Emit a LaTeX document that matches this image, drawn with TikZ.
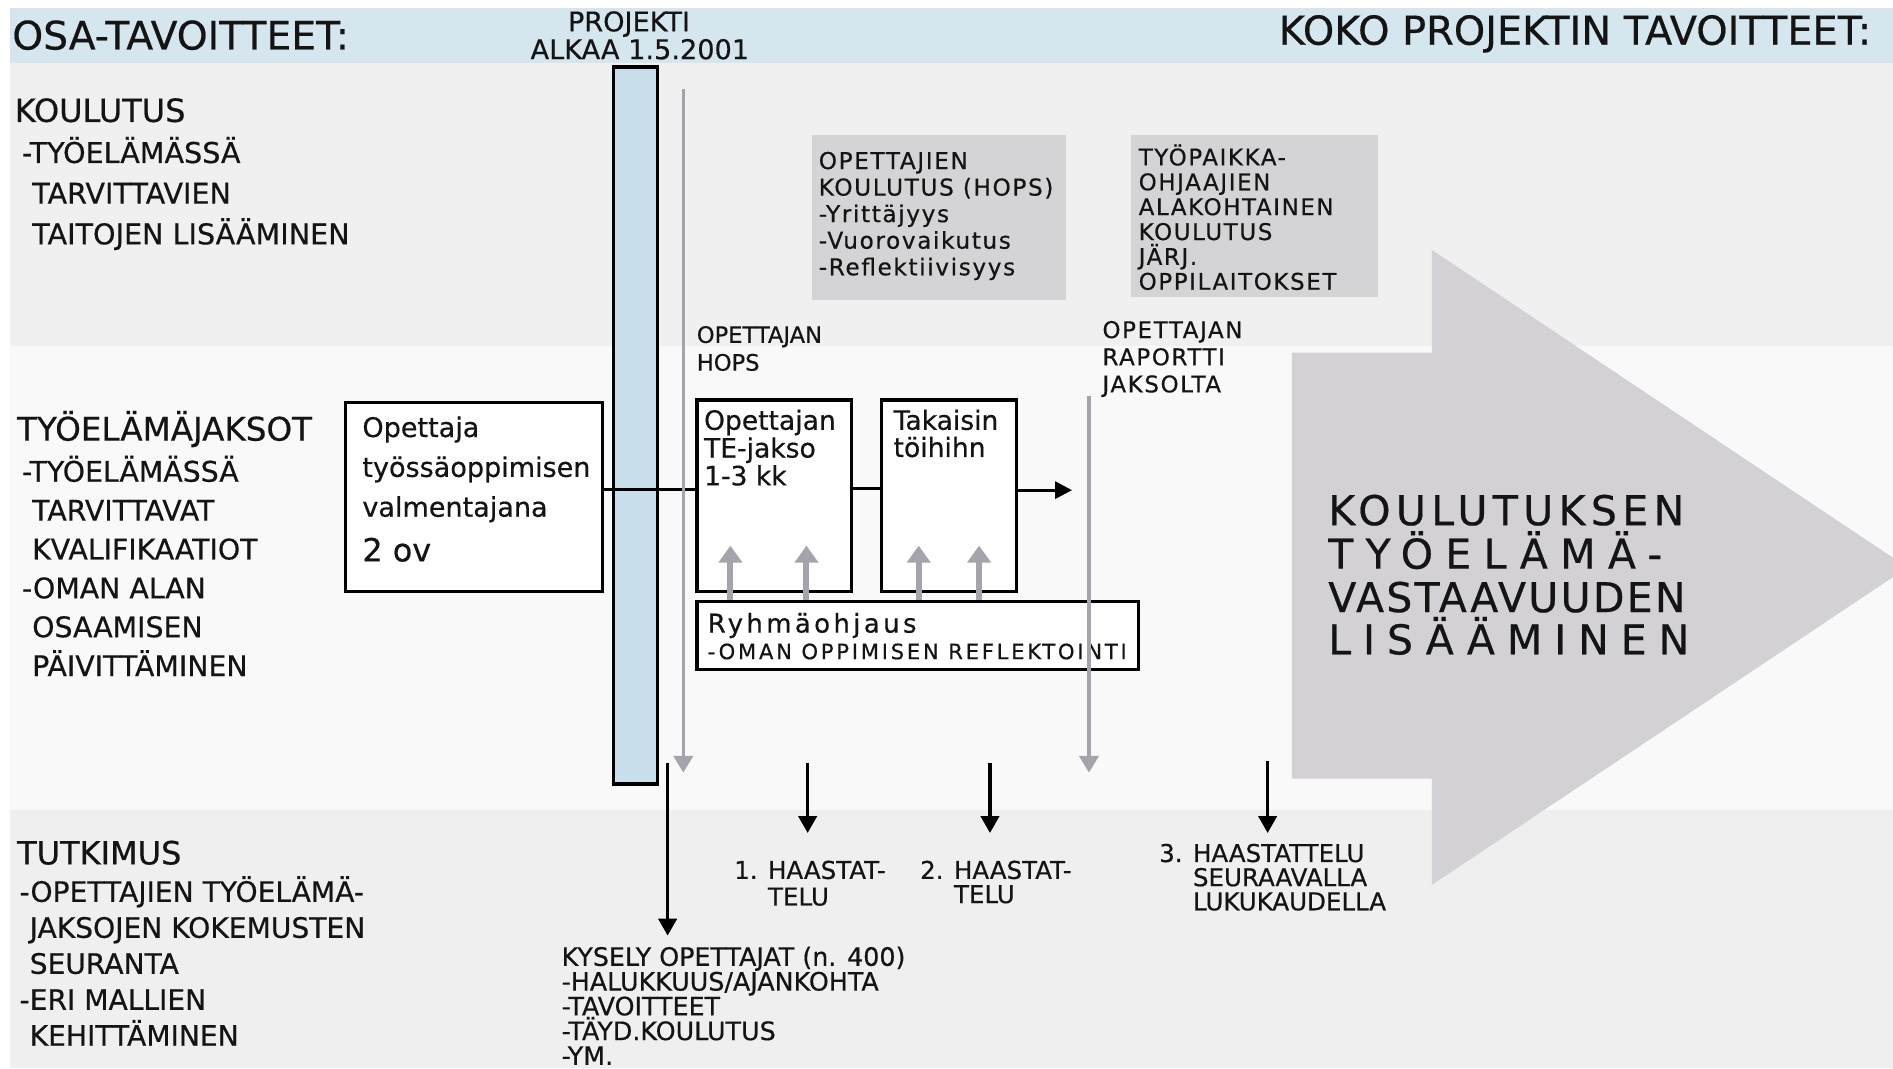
\documentclass[tikz,border=0pt]{standalone}
\usepackage{fontspec}
\setmainfont{DejaVu Sans}[FakeBold=0.5]
\newfontfamily\lsA[LetterSpace=7,FakeBold=0.5]{DejaVu Sans}
\newfontfamily\lsB[LetterSpace=13,FakeBold=0.5]{DejaVu Sans}
\newfontfamily\lsK[LetterSpace=13,FakeBold=0.5]{DejaVu Sans}
\newfontfamily\lsT[LetterSpace=30,FakeBold=0.5]{DejaVu Sans}
\newfontfamily\lsV[LetterSpace=5.5,FakeBold=0.5]{DejaVu Sans}
\newfontfamily\lsL[LetterSpace=29,FakeBold=0.5]{DejaVu Sans}
\usetikzlibrary{arrows.meta,calc}
\definecolor{bandblue}{HTML}{D5E6EF}
\definecolor{barblue}{HTML}{C9DFEC}
\definecolor{bgA}{HTML}{F0F0F0}
\definecolor{bgB}{HTML}{F9F9F9}
\definecolor{bgC}{HTML}{EFEFEF}
\definecolor{boxgray}{HTML}{D4D4D6}
\definecolor{arrgray}{HTML}{D3D1D6}
\definecolor{linegray}{HTML}{A4A4AC}
\newcommand\fs[2]{\fontsize{#1}{#2}\selectfont}
\newcommand\lines[1]{\vtop{\lineskiplimit=-100pt\lineskip=0pt\halign{##\hfil\cr#1\crcr}}}
\begin{document}
\begin{tikzpicture}[x=1pt,y=-1pt,
  txt/.style={inner sep=0pt, anchor=base west, text=black!92},
  frame/.style={draw=black, line width=2.6pt, fill=white, inner sep=0pt, anchor=north west},
  gbox/.style={fill=boxgray, inner sep=0pt, anchor=north west},
  barr/.style={draw=black, line width=3pt, -{Triangle[width=15pt,length=14pt]}},
  garr/.style={draw=linegray, line width=3pt, -{Triangle[width=16pt,length=14pt]}},
  gup/.style={draw=linegray, line width=5pt, -{Triangle[width=19pt,length=14pt]}},
  conn/.style={draw=black, line width=2.6pt}]
\useasboundingbox (0,0) rectangle (1568,885);
\clip (0,0) rectangle (1568,885);
% background
\fill[white] (0,0) rectangle (1568,885);
\fill[bgA] (8,52) rectangle (1568,287);
\fill[bgB] (8,287) rectangle (1568,671);
\fill[bgC] (8,671) rectangle (1568,885);
\fill[bandblue] (8,7) rectangle (1568,52);
% big arrow
\fill[arrgray] (1070,292) -- (1186,292) -- (1186,207) -- (1580,470) -- (1186,733) -- (1186,645) -- (1070,645) -- cycle;
% header texts
\node[txt] (osa) at (10,41) {\fs{32.5}{34}OSA-TAVOITTEET:};
\node[txt, anchor=base east] (koko) at (1550,37) {\fs{33}{34}KOKO PROJEKTIN TAVOITTEET:};
\node[txt, anchor=base] (proj1) at (521,26) {\fs{22.5}{24}PROJEKTI};
\node[txt, anchor=base] (proj2) at (530,49) {\fs{22.5}{24}ALKAA 1.5.2001};
% left column
\node[txt] (koul) at (12,101) {\fs{26.5}{30}KOULUTUS};
\node[txt] (kouli) at (18,135) {\fs{23.7}{33.7}\lines{-TYÖELÄMÄSSÄ\cr\hphantom{-}TARVITTAVIEN\cr\hphantom{-}TAITOJEN LISÄÄMINEN}};
\node[txt] (tyo) at (14,365) {\fs{27}{30}TYÖELÄMÄJAKSOT};
\node[txt] (tyoi) at (18,399) {\fs{23.5}{32.2}\lines{-TYÖELÄMÄSSÄ\cr\hphantom{-}TARVITTAVAT\cr\hphantom{-}KVALIFIKAATIOT\cr-OMAN ALAN\cr\hphantom{-}OSAAMISEN\cr\hphantom{-}PÄIVITTÄMINEN}};
\node[txt] (tut) at (14,716) {\fs{26.5}{30}TUTKIMUS};
\node[txt] (tuti) at (16,747) {\fs{23.3}{29.8}\lines{-OPETTAJIEN TYÖELÄMÄ-\cr\hphantom{-}JAKSOJEN KOKEMUSTEN\cr\hphantom{-}SEURANTA\cr-ERI MALLIEN\cr\hphantom{-}KEHITTÄMINEN}};
% gray boxes
\node[gbox, minimum width=211pt, minimum height=136pt] (g1) at (672,112) {};
\node[txt] (g1t) at (678,140) {\fs{19.2}{22}\lsA\lines{OPETTAJIEN\cr KOULUTUS (HOPS)\cr -Yrittäjyys\cr -Vuorovaikutus\cr -Reflektiivisyys}};
\node[gbox, minimum width=204pt, minimum height=134pt] (g2) at (937,112) {};
\node[txt] (g2t) at (943,137) {\fs{19}{20.6}\lsA\lines{TYÖPAIKKA-\cr OHJAAJIEN\cr ALAKOHTAINEN\cr KOULUTUS\cr JÄRJ.\cr OPPILAITOKSET}};
% labels
\node[txt] (hops) at (577,284) {\fs{18.7}{23}\lines{OPETTAJAN\cr HOPS}};
\node[txt] (rap) at (913,280) {\fs{19}{22.5}\lsA\lines{OPETTAJAN\cr RAPORTTI\cr JAKSOLTA}};
% blue bar
\node[draw=black, line width=2.8pt, fill=barblue, inner sep=0pt, anchor=north west, minimum width=36pt, minimum height=594pt] (bar) at (507,54) {};
% boxes
\node[frame, minimum width=213pt, minimum height=157pt] (A) at (285,332) {};
\node[txt] (At) at (300,362) {\fs{22.4}{33}\lines{Opettaja\cr työssäoppimisen\cr valmentajana\cr\noalign{\vskip4pt}{\fs{26.4}{36}2 ov}}};
\node[frame, minimum width=128pt, minimum height=159pt] (TE) at (576,330) {};
\node[txt] (TEt) at (583,356) {\fs{22}{23}\lines{Opettajan\cr TE-jakso\cr 1-3 kk}};
\node[frame, minimum width=112pt, minimum height=159pt] (T) at (729,330) {};
\node[txt] (Tt) at (740,356) {\fs{22}{22.5}\lines{Takaisin\cr töihihn}};
\node[frame, minimum width=366pt, minimum height=56pt] (R) at (576,497) {};
\node[txt] (Rt1) at (586,524) {\fs{21.5}{22}\lsB Ryhmäohjaus};
\node[txt] (Rt2) at (586,546) {\fs{17.5}{18}\lsB -OMAN OPPIMISEN REFLEKTOINTI};
% connectors between boxes
\draw[conn] ([yshift=6pt]A.east) -- ([yshift=6pt]A.east -| TE.west);
\draw[conn] ([yshift=6pt]TE.east) -- ([yshift=6pt]TE.east -| T.west);
\coordinate (tr) at (888,406);
\draw[barr, line width=2.6pt, -{Triangle[width=14pt,length=14pt]}] (T.east |- tr) -- (tr);
% gray up arrows from group guidance
\coordinate (u1) at (605,452);
\coordinate (u2) at (668,452);
\coordinate (u3) at (761,452);
\coordinate (u4) at (811,452);
\foreach \u in {u1,u2,u3,u4} \draw[gup] (\u |- R.north) -- (\u);
% long gray arrows
\coordinate (gA0) at (566,74);
\coordinate (gA1) at (566,640);
\coordinate (gB0) at (902,328);
\coordinate (gB1) at (902,640);
\draw[garr] (gA0) -- (gA1);
\draw[garr] (gB0) -- (gB1);
% bottom texts
\node[txt] (kys) at (465,800) {\fs{21}{20.5}\lines{KYSELY OPETTAJAT (n. 400)\cr -HALUKKUUS/AJANKOHTA\cr -TAVOITTEET\cr -TÄYD.KOULUTUS\cr -YM.}};
\node[txt] (h1) at (608,728) {\fs{20.3}{22}\lines{1. HAASTAT-\cr\hphantom{1. }TELU}};
\node[txt] (h2) at (762,728) {\fs{20.3}{20}\lines{2. HAASTAT-\cr\hphantom{2. }TELU}};
\node[txt] (h3) at (960,714) {\fs{20.3}{20}\lines{3. HAASTATTELU\cr\hphantom{3. }SEURAAVALLA\cr\hphantom{3. }LUKUKAUDELLA}};
% black down arrows
\coordinate (k0) at (553,632);
\coordinate (k1) at (553,775);
\coordinate (a1) at (669,632);
\coordinate (a1e) at (669,690);
\coordinate (a2) at (820,632);
\coordinate (a2e) at (820,690);
\coordinate (a3) at (1050,630);
\coordinate (a3e) at (1050,690);
\draw[barr] (k0) -- (k1);
\draw[barr] (a1) -- (a1e);
\draw[barr] (a2) -- (a2e);
\draw[barr] (a3) -- (a3e);
% big arrow text
\node[txt] (b1) at (1100,435) {\fs{34}{36}\lsK KOULUTUKSEN};
\node[txt] (b2) at (1100,471) {\fs{34}{36}\lsT TYÖELÄMÄ-};
\node[txt] (b3) at (1100,507) {\fs{34}{36}\lsV VASTAAVUUDEN};
\node[txt] (b4) at (1100,542) {\fs{34}{36}\lsL LISÄÄMINEN};
\end{tikzpicture}
\end{document}
